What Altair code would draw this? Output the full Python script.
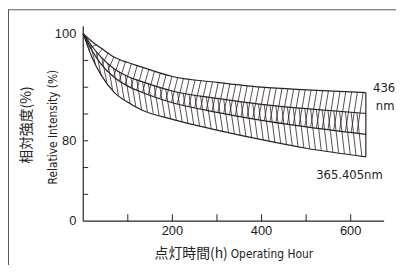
import altair as alt
import pandas as pd
import numpy as np

# ---- data ----
hours = [0, 20, 40, 70, 100, 130, 200, 300, 400, 500, 634]
upper_436 = [100, 98.5, 97.3, 95.6, 94.6, 93.8, 92.0, 90.9, 90.0, 89.5, 89.0]
lower_436 = [100, 96.8, 94.3, 91.8, 90.2, 89.1, 87.1, 85.3, 83.8, 82.6, 81.2]
upper_365 = [100, 97.6, 95.6, 93.4, 92.0, 91.1, 89.3, 87.9, 86.8, 86.0, 85.1]
lower_365 = [100, 95.5, 92.3, 89.0, 87.2, 85.8, 84.0, 82.0, 80.2, 78.6, 77.0]
y_ticks = [70, 75, 80, 85, 90, 95]
y_label_pos = [65, 80, 100]
y_label_txt = ["0", "80", "100"]
x_ticks = [100, 200, 300, 400, 500, 600]
x_label_pos = [200, 400, 600]
x_label_txt = ["200", "400", "600"]

INK = "#2b2222"
TXT = "#222222"
NARROW = "DejaVu Sans Condensed, Liberation Sans Narrow, sans-serif"
LBL = "Liberation Sans, Arial, sans-serif"
JP = "Noto Sans CJK JP"

rows = []
for name, vals in [("u436", upper_436), ("l436", lower_436), ("u365", upper_365), ("l365", lower_365)]:
    for h, v in zip(hours, vals):
        rows.append({"curve": name, "h": h, "v": v})
curves = pd.DataFrame(rows)

# hatch lines derived from the curves
end = hours[-1]
step, dx_a, dx_b = 13, 14, 11
hatch = []
for x0 in np.arange(3, end, step):
    if x0 + dx_a <= end:
        hatch.append({"x": x0, "y": float(np.interp(x0, hours, lower_436)),
                      "x2": x0 + dx_a, "y2": float(np.interp(x0 + dx_a, hours, upper_436))})
    if x0 + dx_b <= end:
        hatch.append({"x": x0, "y": float(np.interp(x0, hours, upper_365)),
                      "x2": x0 + dx_b, "y2": float(np.interp(x0 + dx_b, hours, lower_365))})
hatch = pd.DataFrame(hatch)

edge = pd.DataFrame({"x": [end], "y": [lower_365[-1]], "y2": [upper_436[-1]]})

xs = alt.Scale(domain=[0, 675], nice=False, zero=False)
ys = alt.Scale(domain=[65, 101.4], nice=False, zero=False)

lines = alt.Chart(curves).mark_line(color=INK, strokeWidth=1.2, interpolate="monotone").encode(
    x=alt.X("h:Q", scale=xs, axis=None),
    y=alt.Y("v:Q", scale=ys, axis=None),
    detail="curve:N",
)

hatch_layer = alt.Chart(hatch).mark_rule(color=INK, strokeWidth=0.8).encode(
    x=alt.X("x:Q", scale=xs, axis=None), y=alt.Y("y:Q", scale=ys, axis=None),
    x2="x2:Q", y2="y2:Q",
)

edge_layer = alt.Chart(edge).mark_rule(color=INK, strokeWidth=1.2).encode(
    x=alt.X("x:Q", scale=xs, axis=None), y=alt.Y("y:Q", scale=ys, axis=None), y2="y2:Q",
)

one = pd.DataFrame({"a": [0]})
x_domain = alt.Chart(one).mark_rule(color=INK, strokeWidth=1.2).encode(
    x=alt.value(0), x2=alt.value(304), y=alt.value(197))
y_domain = alt.Chart(one).mark_rule(color=INK, strokeWidth=1.2).encode(
    x=alt.value(0), y=alt.value(0), y2=alt.value(197))

ytick_layer = alt.Chart(pd.DataFrame({"v": y_ticks})).mark_rule(color=INK, strokeWidth=1).encode(
    x=alt.value(0), x2=alt.value(5), y=alt.Y("v:Q", scale=ys, axis=None),
)
xtick_layer = alt.Chart(pd.DataFrame({"h": x_ticks})).mark_rule(color=INK, strokeWidth=1).encode(
    x=alt.X("h:Q", scale=xs, axis=None), y=alt.value(197), y2=alt.value(190),
)
ylabel_layer = alt.Chart(pd.DataFrame({"v": y_label_pos, "t": y_label_txt})).mark_text(
    align="right", baseline="middle", font=LBL, fontSize=13, color=TXT).encode(
    x=alt.value(-7), y=alt.Y("v:Q", scale=ys, axis=None), text="t:N",
)
xlabel_layer = alt.Chart(pd.DataFrame({"h": x_label_pos, "t": x_label_txt})).mark_text(
    align="center", baseline="middle", font=LBL, fontSize=13, color=TXT).encode(
    x=alt.X("h:Q", scale=xs, axis=None), y=alt.value(207), text="t:N",
)

def txt(text, x, y, size, font, align="center", angle=0, weight="normal"):
    kw = dict(text=text, fontSize=size, font=font, align=align, baseline="middle",
              color=TXT, fontWeight=weight)
    if angle:
        kw["angle"] = angle
    return alt.Chart(one).mark_text(**kw).encode(x=alt.value(x), y=alt.value(y))

texts = [
    txt("相対強度(%)", -57, 100, 14, JP, angle=270),
    txt("Relative Intensity (%)", -31, 102, 12, NARROW, angle=270),
    txt("点灯時間(h)", 146, 230, 14, JP, align="right"),
    txt("Operating Hour", 149, 230, 12, NARROW, align="left"),
    txt("436", 304, 63, 13, NARROW),
    txt("nm", 305, 81, 13, NARROW),
    txt("365.405nm", 269, 150, 13, NARROW),
]

border_top = alt.Chart(one).mark_rule(color="#555555", strokeWidth=1).encode(
    x=alt.value(-76), x2=alt.value(330), y=alt.value(-16.5))
border_left = alt.Chart(one).mark_rule(color="#555555", strokeWidth=1).encode(
    x=alt.value(-75.5), y=alt.value(-17), y2=alt.value(260))

chart = alt.layer(hatch_layer, lines, edge_layer, x_domain, y_domain, ytick_layer, xtick_layer,
                  ylabel_layer, xlabel_layer, border_top, border_left, *texts).properties(
    width=304, height=197,
    autosize=alt.AutoSizeParams(type="none"),
    padding={"left": 76, "top": 17, "right": 12, "bottom": 43},
    background="white",
).configure_view(stroke=None)

chart.save("out.html", embed_options={"renderer": "svg", "actions": False})
